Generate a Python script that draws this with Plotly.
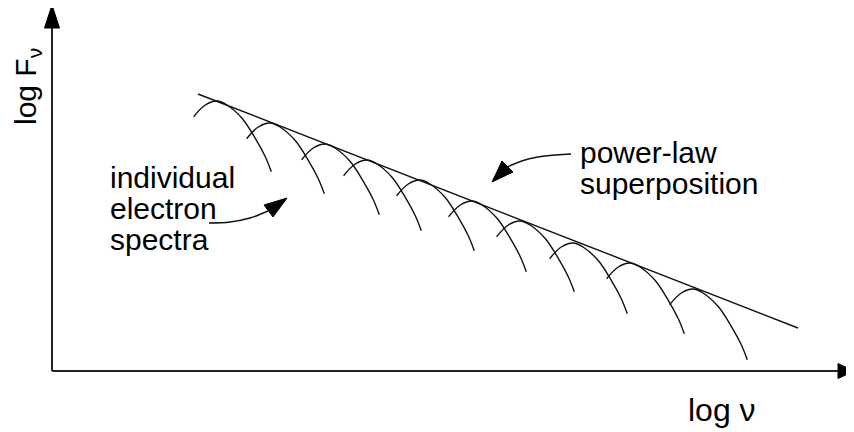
import plotly.graph_objects as go

# ---- data (units: log nu / log F_nu, arbitrary) ----
peak_lognu = [1.65, 2.18, 2.73, 3.15, 3.68, 4.20, 4.68, 5.21, 5.78, 6.41]
peak_logF = [2.70, 2.48, 2.27, 2.11, 1.91, 1.70, 1.50, 1.28, 1.08, 0.82]
# single-electron spectrum shape (offsets from its peak)
shape_dx = [-0.234, -0.117, 0.0, 0.10, 0.25, 0.383, 0.483, 0.543]
shape_dy = [-0.157, -0.040, 0.0, -0.040, -0.173, -0.373, -0.557, -0.707]
powerlaw_lognu = [1.46, 7.46]
powerlaw_logF = [2.77, 0.43]

x_axis_end = 7.88
y_axis_end = 3.45

labels_left = ["individual", "electron", "spectra"]
label_right = ["power-law", "superposition"]

fig = go.Figure()
ink = "#111111"

# axes
fig.add_trace(go.Scatter(x=[0, x_axis_end], y=[0, 0], mode="lines",
                         line=dict(color="#222222", width=2), hoverinfo="skip"))
fig.add_trace(go.Scatter(x=[0, 0], y=[0, y_axis_end], mode="lines",
                         line=dict(color="#222222", width=2), hoverinfo="skip"))
# arrowheads on axes
fig.add_trace(go.Scatter(x=[7.86, 8.02, 7.86, 7.86], y=[0.075, 0.0, -0.075, 0.075],
                         mode="lines", fill="toself", fillcolor="black",
                         line=dict(color="black", width=1), hoverinfo="skip"))
fig.add_trace(go.Scatter(x=[-0.075, 0.0, 0.075, -0.075], y=[3.43, 3.66, 3.43, 3.43],
                         mode="lines", fill="toself", fillcolor="black",
                         line=dict(color="black", width=1), hoverinfo="skip"))

# power-law line
fig.add_trace(go.Scatter(x=powerlaw_lognu, y=powerlaw_logF, mode="lines",
                         line=dict(color=ink, width=1.4), hoverinfo="skip"))

# individual electron spectra
for px, py in zip(peak_lognu, peak_logF):
    fig.add_trace(go.Scatter(x=[px + d for d in shape_dx], y=[py + d for d in shape_dy],
                             mode="lines", line=dict(color=ink, width=1.4, shape="spline"),
                             hoverinfo="skip"))

# pointer arrows
fig.add_trace(go.Scatter(x=[5.19, 4.93, 4.73, 4.55], y=[2.17, 2.15, 2.11, 2.04],
                         mode="lines", line=dict(color=ink, width=1.4, shape="spline"),
                         hoverinfo="skip"))
fig.add_trace(go.Scatter(x=[4.50, 4.61, 4.40, 4.50], y=[2.10, 1.99, 1.89, 2.10],
                         mode="lines", fill="toself", fillcolor="black",
                         line=dict(color="black", width=1), hoverinfo="skip"))
fig.add_trace(go.Scatter(x=[1.57, 1.78, 1.98, 2.16], y=[1.48, 1.49, 1.53, 1.60],
                         mode="lines", line=dict(color=ink, width=1.4, shape="spline"),
                         hoverinfo="skip"))
fig.add_trace(go.Scatter(x=[2.12, 2.21, 2.35, 2.12], y=[1.66, 1.54, 1.73, 1.66],
                         mode="lines", fill="toself", fillcolor="black",
                         line=dict(color="black", width=1), hoverinfo="skip"))

font = dict(family="Liberation Sans, Arial, sans-serif", size=30, color="black")
annots = []
for txt, yy in zip(labels_left, [1.94, 1.63, 1.32]):
    annots.append(dict(x=0.56, y=yy, text=txt, showarrow=False, xanchor="left",
                       yanchor="middle", font=font))
for txt, yy in zip(label_right, [2.19, 1.88]):
    annots.append(dict(x=5.26, y=yy, text=txt, showarrow=False, xanchor="left",
                       yanchor="middle", font=font))
annots.append(dict(x=6.34, y=-0.39, text="log ν", showarrow=False, xanchor="left",
                   yanchor="middle", font=dict(font, size=32)))
annots.append(dict(x=-0.25, y=2.84, text="log F<sub>ν</sub>", showarrow=False,
                   xanchor="center", yanchor="middle", textangle=-90, font=font))

# ranges compensate for the 8px default page margin
fig.update_layout(
    width=854, height=432,
    margin=dict(l=0, r=0, t=0, b=0),
    paper_bgcolor="white", plot_bgcolor="white",
    showlegend=False,
    xaxis=dict(range=[-0.44, 8.10], visible=False, fixedrange=True),
    yaxis=dict(range=[-0.69, 3.63], visible=False, fixedrange=True),
    annotations=annots,
)

fig.write_html("out.html", config={"displayModeBar": False})
